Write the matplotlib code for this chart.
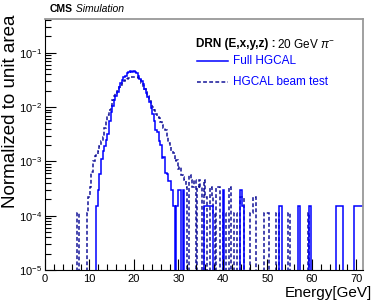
import numpy as np
import matplotlib
matplotlib.use("Agg")
import matplotlib.pyplot as plt
from matplotlib.ticker import LogLocator, MultipleLocator, NullFormatter

plt.rcParams['font.family'] = ['Liberation Sans', 'DejaVu Sans']
plt.rcParams['mathtext.fontset'] = 'custom'
plt.rcParams['mathtext.rm'] = 'Liberation Sans'
plt.rcParams['mathtext.it'] = 'Liberation Sans:italic'

# ---------------- data ----------------
bin_width = 0.36
n_bins = 200

# Full HGCAL: contiguous bins starting at 11.52 GeV
full_start = 11.52
full_core = [1.48e-4, 2.95e-4, 5.75e-4, 1.12e-3, 1.58e-3, 1.91e-3, 2.51e-3, 3.16e-3,
             5.62e-3, 8.3e-3, 1.05e-2, 1.35e-2, 1.58e-2, 1.86e-2, 2.34e-2, 2.82e-2,
             3.16e-2, 3.55e-2, 3.8e-2, 4.17e-2, 4.37e-2, 4.57e-2, 4.47e-2, 4.57e-2,
             4.37e-2, 4.17e-2, 3.72e-2, 3.31e-2, 3.02e-2, 2.63e-2, 2.19e-2, 1.82e-2,
             1.51e-2, 1.26e-2, 9.5e-3, 7.6e-3, 5.6e-3, 3.8e-3, 3.55e-3, 2.4e-3,
             2.0e-3, 1.15e-3, 1.2e-3, 6.2e-4, 5.9e-4, 4.4e-4, 4.4e-4, 2.96e-4,
             1.48e-4, 0.0, 1.48e-4, 2.96e-4, 2.96e-4, 0.0, 2.96e-4]
full_tail_energy = [35.8, 36.2, 36.5, 36.9, 37.3, 37.6, 40.1, 44.1, 44.5, 52.7, 53.1,
                    57.1, 59.6, 65.7, 66.1, 66.4, 66.8, 69.7, 70.0, 70.4, 70.7, 71.1, 71.4]
full_tail_value = [1.48e-4, 1.48e-4, 1.48e-4, 1.48e-4, 1.48e-4, 1.48e-4, 2.96e-4,
                   2.96e-4, 1.48e-4, 1.48e-4, 1.48e-4, 1.48e-4, 1.48e-4, 1.48e-4,
                   1.48e-4, 1.48e-4, 1.48e-4, 1.48e-4, 1.48e-4, 1.48e-4, 1.48e-4,
                   1.48e-4, 1.48e-4]

# HGCAL beam test: contiguous bins starting at 9.72 GeV
beam_start = 9.72
beam_core = [2.24e-4, 3.36e-4, 6.3e-4, 1.0e-3, 1.26e-3, 1.38e-3, 1.58e-3, 1.9e-3,
             2.4e-3, 2.8e-3, 4.2e-3, 5.6e-3, 7.1e-3, 8.9e-3, 1.07e-2, 1.38e-2,
             1.62e-2, 1.82e-2, 2.0e-2, 2.34e-2, 2.57e-2, 2.75e-2, 3.0e-2, 3.16e-2,
             3.3e-2, 3.4e-2, 3.47e-2, 3.55e-2, 3.63e-2, 3.55e-2, 3.63e-2, 3.4e-2,
             3.16e-2, 2.82e-2, 2.5e-2, 2.2e-2, 1.9e-2, 1.58e-2, 1.32e-2, 1.12e-2,
             1.0e-2, 8.9e-3, 7.6e-3, 6.6e-3, 6.3e-3, 5.4e-3, 4.7e-3, 4.2e-3,
             3.8e-3, 2.8e-3, 2.2e-3, 1.86e-3, 1.58e-3, 1.41e-3, 1.0e-3, 1.07e-3,
             7.1e-4, 7.9e-4, 5.6e-4, 5.2e-4, 4.5e-4, 3.4e-4, 0.0, 5.6e-4,
             4.5e-4, 3.4e-4, 4.5e-4, 0.0, 3.4e-4, 4.5e-4, 3.4e-4, 0.0,
             4.5e-4, 2.2e-4, 0.0, 0.0, 3.4e-4, 2.2e-4, 1.1e-4, 0.0,
             3.4e-4, 3.4e-4, 0.0, 0.0, 1.1e-4, 1.1e-4, 0.0, 0.0, 3.4e-4]
beam_tail_energy = [7.4, 9.5, 42.8, 43.1, 44.1, 44.4, 46.3, 46.6, 47.0, 47.3,
                    49.5, 49.9, 50.2, 52.0, 52.3, 54.9, 59.2]
beam_tail_value = [1.12e-4, 1.12e-4, 1.12e-4, 1.12e-4, 2.24e-4, 2.24e-4, 1.12e-4,
                   1.12e-4, 2.24e-4, 2.24e-4, 1.12e-4, 1.12e-4, 1.12e-4, 1.12e-4,
                   1.12e-4, 1.12e-4, 1.12e-4]

xticks = [0, 10, 20, 30, 40, 50, 60, 70]

# ---------------- build histograms ----------------
edges = np.arange(n_bins + 1) * bin_width


def build(start, core, tail_e, tail_v):
    h = np.zeros(n_bins)
    i0 = int(round(start / bin_width))
    h[i0:i0 + len(core)] = core
    idx = np.clip(np.digitize(tail_e, edges) - 1, 0, n_bins - 1)
    h[idx] = tail_v
    return h


full = build(full_start, full_core, full_tail_energy, full_tail_value)
beam = build(beam_start, beam_core, beam_tail_energy, beam_tail_value)

floor = 1e-6
full_plot = np.where(full > 0, full, floor)
beam_plot = np.where(beam > 0, beam, floor)

# ---------------- figure ----------------
W, H = 381, 307
fig = plt.figure(figsize=(W / 100, H / 100), dpi=100)
ax = fig.add_axes([45 / W, 1 - 270 / H, 318 / W, 251 / H])

blue = (0, 0, 1)
navy = (0.08, 0.08, 0.6)
ax.stairs(beam_plot, edges, baseline=None, color=navy, lw=1.1,
          linestyle=(0, (2.5, 1.5)))
ax.stairs(full_plot, edges, baseline=None, color=blue, lw=1.1)

ax.set_yscale('log')
ax.set_ylim(1e-5, 0.42)
ax.set_xlim(0, 71.5)

ax.xaxis.set_minor_locator(MultipleLocator(2))
ax.set_xticks(xticks)
ax.yaxis.set_major_locator(LogLocator(base=10, numticks=10))
ax.yaxis.set_minor_locator(LogLocator(base=10, subs=np.arange(2, 10), numticks=20))
ax.yaxis.set_minor_formatter(NullFormatter())

ax.tick_params(which='both', direction='in', top=False, right=False, labelsize=8)
ax.tick_params(which='major', length=8, width=0.8)
ax.tick_params(which='minor', length=4, width=0.8)
ax.tick_params(axis='x', pad=3)
ax.tick_params(axis='y', pad=2)

for s in ['left', 'bottom']:
    ax.spines[s].set_color('black')
    ax.spines[s].set_linewidth(0.8)
for s in ['top', 'right']:
    ax.spines[s].set_color('#999999')
    ax.spines[s].set_linewidth(1.3)

# axis titles (ROOT style: aligned to the end of the axis)
fig.text(11 / W, 1 - 15 / H, 'Normalized to unit area', fontsize=13.5, rotation=90,
         ha='center', va='top')
fig.text(372 / W, 1 - 293 / H, 'Energy[GeV]', fontsize=11, ha='right', va='center')

# CMS label
t_cms = fig.text(50 / W, 1 - 9 / H, 'CMS', fontsize=7.5, fontweight='bold',
                 ha='left', va='center')
ax.annotate(' Simulation', xy=(1, 0.5), xycoords=t_cms, fontsize=7.5,
            fontstyle='italic', ha='left', va='center')

# legend header
t_drn = ax.text((196 - 45) / 318, (270 - 44) / 251, 'DRN (E,x,y,z) :', fontsize=8.5,
                fontweight='bold', ha='left', va='center', transform=ax.transAxes)
ax.annotate(r'20 GeV $\pi^{-}$', xy=(1, 0.5), xycoords=t_drn, fontsize=8.5,
            ha='left', va='center', xytext=(1, 0), textcoords='offset points')

# legend entries
y1 = (270 - 61) / 251
y2 = (270 - 82) / 251
xa, xb = (197 - 45) / 318, (228 - 45) / 318
ax.plot([xa, xb], [y1, y1], transform=ax.transAxes, color=blue, lw=1.1)
ax.plot([xa, xb], [y2, y2], transform=ax.transAxes, color=navy, lw=1.1,
        linestyle=(0, (2.5, 1.5)))
ax.text((233 - 45) / 318, y1, 'Full HGCAL', color=blue, fontsize=8.5, ha='left',
        va='center', transform=ax.transAxes)
ax.text((233 - 45) / 318, y2, 'HGCAL beam test', color=blue, fontsize=8.5, ha='left',
        va='center', transform=ax.transAxes)

fig.savefig('out.png', dpi=100)
